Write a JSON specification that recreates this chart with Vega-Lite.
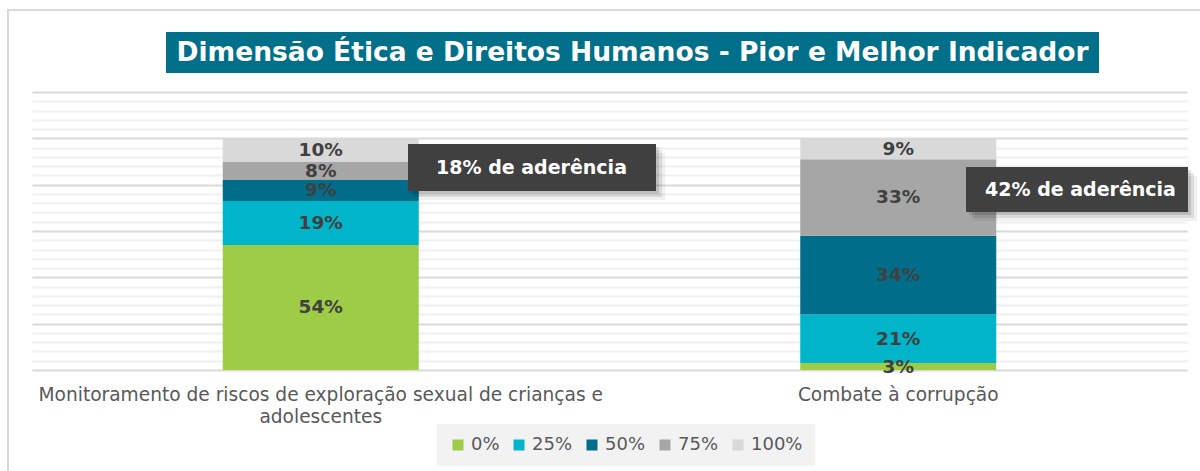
{
  "$schema": "https://vega.github.io/schema/vega-lite/v6.json",
  "width": 1155,
  "height": 338,
  "autosize": {"type": "none"},
  "padding": {"left": 32, "top": 32, "right": 13, "bottom": 101},
  "background": "white",
  "config": {"view": {"stroke": null}, "font": "DejaVu Sans"},
  "datasets": {
    "barras": [
      {"indicador": "Monitoramento de riscos de exploração sexual de crianças e adolescentes", "faixa": "0%", "nivel": 0, "pct": 0.54},
      {"indicador": "Monitoramento de riscos de exploração sexual de crianças e adolescentes", "faixa": "25%", "nivel": 25, "pct": 0.19},
      {"indicador": "Monitoramento de riscos de exploração sexual de crianças e adolescentes", "faixa": "50%", "nivel": 50, "pct": 0.09},
      {"indicador": "Monitoramento de riscos de exploração sexual de crianças e adolescentes", "faixa": "75%", "nivel": 75, "pct": 0.08},
      {"indicador": "Monitoramento de riscos de exploração sexual de crianças e adolescentes", "faixa": "100%", "nivel": 100, "pct": 0.10},
      {"indicador": "Combate à corrupção", "faixa": "0%", "nivel": 0, "pct": 0.03},
      {"indicador": "Combate à corrupção", "faixa": "25%", "nivel": 25, "pct": 0.21},
      {"indicador": "Combate à corrupção", "faixa": "50%", "nivel": 50, "pct": 0.34},
      {"indicador": "Combate à corrupção", "faixa": "75%", "nivel": 75, "pct": 0.33},
      {"indicador": "Combate à corrupção", "faixa": "100%", "nivel": 100, "pct": 0.09}
    ],
    "titulo": [
      {"titulo": "Dimensão Ética e Direitos Humanos - Pior e Melhor Indicador"}
    ],
    "anotacoes": [
      {"indicador": "Monitoramento de riscos de exploração sexual de crianças e adolescentes", "rotulo": "18% de aderência"},
      {"indicador": "Combate à corrupção", "rotulo": "42% de aderência"}
    ]
  },
  "layer": [
    {
      "data": {"name": "barras"},
      "transform": [
        {"stack": "pct", "groupby": ["indicador"], "sort": [{"field": "nivel", "order": "ascending"}], "as": ["y0", "y1"]}
      ],
      "mark": {"type": "bar", "width": {"band": 0.3394}},
      "encoding": {
        "x": {
          "field": "indicador",
          "type": "nominal",
          "sort": null,
          "scale": {"paddingInner": 0, "paddingOuter": 0},
          "axis": {
            "title": null,
            "domain": false,
            "ticks": false,
            "grid": false,
            "labelAngle": 0,
            "labelFont": "DejaVu Sans",
            "labelFontSize": 18.6,
            "labelColor": "#595959",
            "labelPadding": 15,
            "labelLimit": 0,
            "labelLineHeight": 22,
            "labelExpr": "datum.label == 'Monitoramento de riscos de exploração sexual de crianças e adolescentes' ? ['Monitoramento de riscos de exploração sexual de crianças e', 'adolescentes'] : datum.label"
          }
        },
        "y": {
          "field": "y1",
          "type": "quantitative",
          "scale": {"domain": [0, 1.459], "nice": false, "zero": true},
          "axis": {
            "title": null,
            "labels": false,
            "ticks": false,
            "domain": false,
            "grid": true,
            "tickCount": 1000,
            "values": [0, 0.04, 0.08, 0.12, 0.16, 0.2, 0.24, 0.28, 0.32, 0.36, 0.4, 0.44, 0.48, 0.52, 0.56, 0.6, 0.64, 0.68, 0.72, 0.76, 0.8, 0.84, 0.88, 0.92, 0.96, 1, 1.04, 1.08, 1.12, 1.16, 1.2],
            "gridWidth": 2,
            "gridColor": {"condition": {"test": "abs(datum.value * 5 - round(datum.value * 5)) < 0.001", "value": "#D9D9D9"}, "value": "#F0F0F0"}
          }
        },
        "y2": {"field": "y0"},
        "color": {
          "field": "faixa",
          "type": "nominal",
          "scale": {"domain": ["0%", "25%", "50%", "75%", "100%"], "range": ["#9FCC46", "#00B4C9", "#006E8A", "#A6A6A6", "#D9D9D9"]},
          "legend": {
            "title": null,
            "orient": "none",
            "legendX": 405,
            "legendY": 392,
            "direction": "horizontal",
            "columns": 5,
            "fillColor": "#F2F2F2",
            "padding": 12,
            "symbolType": "square",
            "symbolSize": 121,
            "symbolStrokeWidth": 0,
            "symbolOpacity": 1,
            "labelFont": "DejaVu Sans",
            "labelFontSize": 18,
            "labelColor": "#595959",
            "labelOffset": 4,
            "columnPadding": 10
          }
        }
      }
    },
    {
      "data": {"name": "barras"},
      "transform": [
        {"stack": "pct", "groupby": ["indicador"], "sort": [{"field": "nivel", "order": "ascending"}], "as": ["y0", "y1"]},
        {"fold": ["y0", "y1"], "as": ["extremo", "valor"]},
        {"aggregate": [{"op": "mean", "field": "valor", "as": "ymeio"}], "groupby": ["indicador", "faixa", "pct"]}
      ],
      "mark": {"type": "text", "font": "DejaVu Sans", "fontWeight": "bold", "fontSize": 18.5, "color": "#404040", "align": "center", "baseline": "middle"},
      "encoding": {
        "x": {"field": "indicador", "type": "nominal", "sort": null, "scale": {"paddingInner": 0, "paddingOuter": 0}, "axis": null},
        "y": {"field": "ymeio", "type": "quantitative"},
        "text": {"field": "pct", "type": "quantitative", "format": ".0%"}
      }
    },
    {
      "data": {"name": "titulo"},
      "mark": {"type": "rect", "fill": "transparent", "stroke": "#D9D9D9", "strokeWidth": 2},
      "encoding": {
        "x": {"datum": -0.02078, "type": "quantitative", "scale": {"domain": [0, 1], "nice": false, "zero": false}, "axis": null},
        "x2": {"datum": 1.01991},
        "y": {"datum": 1.55396, "type": "quantitative"},
        "y2": {"datum": -0.47482}
      }
    },
    {
      "data": {"name": "titulo"},
      "mark": {"type": "rect", "fill": "#006F89"},
      "encoding": {
        "x": {"datum": 0.11602, "type": "quantitative", "scale": {"domain": [0, 1], "nice": false, "zero": false}, "axis": null},
        "x2": {"datum": 0.92381},
        "y": {"datum": 1.459, "type": "quantitative"},
        "y2": {"datum": 1.28201}
      }
    },
    {
      "data": {"name": "titulo"},
      "mark": {"type": "text", "font": "DejaVu Sans", "fontWeight": "bold", "fontSize": 26.5, "color": "#FFFFFF", "align": "center", "baseline": "middle"},
      "encoding": {
        "x": {"datum": 0.51991, "type": "quantitative", "scale": {"domain": [0, 1], "nice": false, "zero": false}, "axis": null},
        "y": {"datum": 1.3705, "type": "quantitative"},
        "text": {"field": "titulo"}
      }
    },
    {
      "data": {"name": "anotacoes"},
      "transform": [{"filter": {"field": "rotulo", "equal": "18% de aderência"}}],
      "mark": {"type": "rect", "fill": "#000000", "opacity": 0.06, "xOffset": 9, "x2Offset": 9, "yOffset": 9, "y2Offset": 9},
      "encoding": {
        "x": {"datum": 0.32554, "type": "quantitative", "scale": {"domain": [0, 1], "nice": false, "zero": false}, "axis": null},
        "x2": {"datum": 0.54026},
        "y": {"datum": 0.97554, "type": "quantitative"},
        "y2": {"datum": 0.77266}
      }
    },
    {
      "data": {"name": "anotacoes"},
      "transform": [{"filter": {"field": "rotulo", "equal": "18% de aderência"}}],
      "mark": {"type": "rect", "fill": "#000000", "opacity": 0.09, "xOffset": 6, "x2Offset": 6, "yOffset": 6, "y2Offset": 6},
      "encoding": {
        "x": {"datum": 0.32554, "type": "quantitative", "scale": {"domain": [0, 1], "nice": false, "zero": false}, "axis": null},
        "x2": {"datum": 0.54026},
        "y": {"datum": 0.97554, "type": "quantitative"},
        "y2": {"datum": 0.77266}
      }
    },
    {
      "data": {"name": "anotacoes"},
      "transform": [{"filter": {"field": "rotulo", "equal": "18% de aderência"}}],
      "mark": {"type": "rect", "fill": "#000000", "opacity": 0.12, "xOffset": 3, "x2Offset": 3, "yOffset": 3, "y2Offset": 3},
      "encoding": {
        "x": {"datum": 0.32554, "type": "quantitative", "scale": {"domain": [0, 1], "nice": false, "zero": false}, "axis": null},
        "x2": {"datum": 0.54026},
        "y": {"datum": 0.97554, "type": "quantitative"},
        "y2": {"datum": 0.77266}
      }
    },
    {
      "data": {"name": "anotacoes"},
      "transform": [{"filter": {"field": "rotulo", "equal": "18% de aderência"}}],
      "mark": {"type": "rect", "fill": "#404040"},
      "encoding": {
        "x": {"datum": 0.32554, "type": "quantitative", "scale": {"domain": [0, 1], "nice": false, "zero": false}, "axis": null},
        "x2": {"datum": 0.54026},
        "y": {"datum": 0.97554, "type": "quantitative"},
        "y2": {"datum": 0.77266}
      }
    },
    {
      "data": {"name": "anotacoes"},
      "transform": [{"filter": {"field": "rotulo", "equal": "18% de aderência"}}],
      "mark": {"type": "text", "font": "DejaVu Sans", "fontWeight": "bold", "fontSize": 19, "color": "#FFFFFF", "align": "center", "baseline": "middle"},
      "encoding": {
        "x": {"datum": 0.43247, "type": "quantitative", "scale": {"domain": [0, 1], "nice": false, "zero": false}, "axis": null},
        "y": {"datum": 0.8741, "type": "quantitative"},
        "text": {"field": "rotulo"}
      }
    },
    {
      "data": {"name": "anotacoes"},
      "transform": [{"filter": {"field": "rotulo", "equal": "42% de aderência"}}],
      "mark": {"type": "rect", "fill": "#000000", "opacity": 0.06, "xOffset": 9, "x2Offset": 9, "yOffset": 9, "y2Offset": 9},
      "encoding": {
        "x": {"datum": 0.80866, "type": "quantitative", "scale": {"domain": [0, 1], "nice": false, "zero": false}, "axis": null},
        "x2": {"datum": 1.00087},
        "y": {"datum": 0.87626, "type": "quantitative"},
        "y2": {"datum": 0.68201}
      }
    },
    {
      "data": {"name": "anotacoes"},
      "transform": [{"filter": {"field": "rotulo", "equal": "42% de aderência"}}],
      "mark": {"type": "rect", "fill": "#000000", "opacity": 0.09, "xOffset": 6, "x2Offset": 6, "yOffset": 6, "y2Offset": 6},
      "encoding": {
        "x": {"datum": 0.80866, "type": "quantitative", "scale": {"domain": [0, 1], "nice": false, "zero": false}, "axis": null},
        "x2": {"datum": 1.00087},
        "y": {"datum": 0.87626, "type": "quantitative"},
        "y2": {"datum": 0.68201}
      }
    },
    {
      "data": {"name": "anotacoes"},
      "transform": [{"filter": {"field": "rotulo", "equal": "42% de aderência"}}],
      "mark": {"type": "rect", "fill": "#000000", "opacity": 0.12, "xOffset": 3, "x2Offset": 3, "yOffset": 3, "y2Offset": 3},
      "encoding": {
        "x": {"datum": 0.80866, "type": "quantitative", "scale": {"domain": [0, 1], "nice": false, "zero": false}, "axis": null},
        "x2": {"datum": 1.00087},
        "y": {"datum": 0.87626, "type": "quantitative"},
        "y2": {"datum": 0.68201}
      }
    },
    {
      "data": {"name": "anotacoes"},
      "transform": [{"filter": {"field": "rotulo", "equal": "42% de aderência"}}],
      "mark": {"type": "rect", "fill": "#404040"},
      "encoding": {
        "x": {"datum": 0.80866, "type": "quantitative", "scale": {"domain": [0, 1], "nice": false, "zero": false}, "axis": null},
        "x2": {"datum": 1.00087},
        "y": {"datum": 0.87626, "type": "quantitative"},
        "y2": {"datum": 0.68201}
      }
    },
    {
      "data": {"name": "anotacoes"},
      "transform": [{"filter": {"field": "rotulo", "equal": "42% de aderência"}}],
      "mark": {"type": "text", "font": "DejaVu Sans", "fontWeight": "bold", "fontSize": 19, "color": "#FFFFFF", "align": "center", "baseline": "middle"},
      "encoding": {
        "x": {"datum": 0.90779, "type": "quantitative", "scale": {"domain": [0, 1], "nice": false, "zero": false}, "axis": null},
        "y": {"datum": 0.77914, "type": "quantitative"},
        "text": {"field": "rotulo"}
      }
    }
  ],
  "resolve": {"scale": {"x": "independent"}}
}
